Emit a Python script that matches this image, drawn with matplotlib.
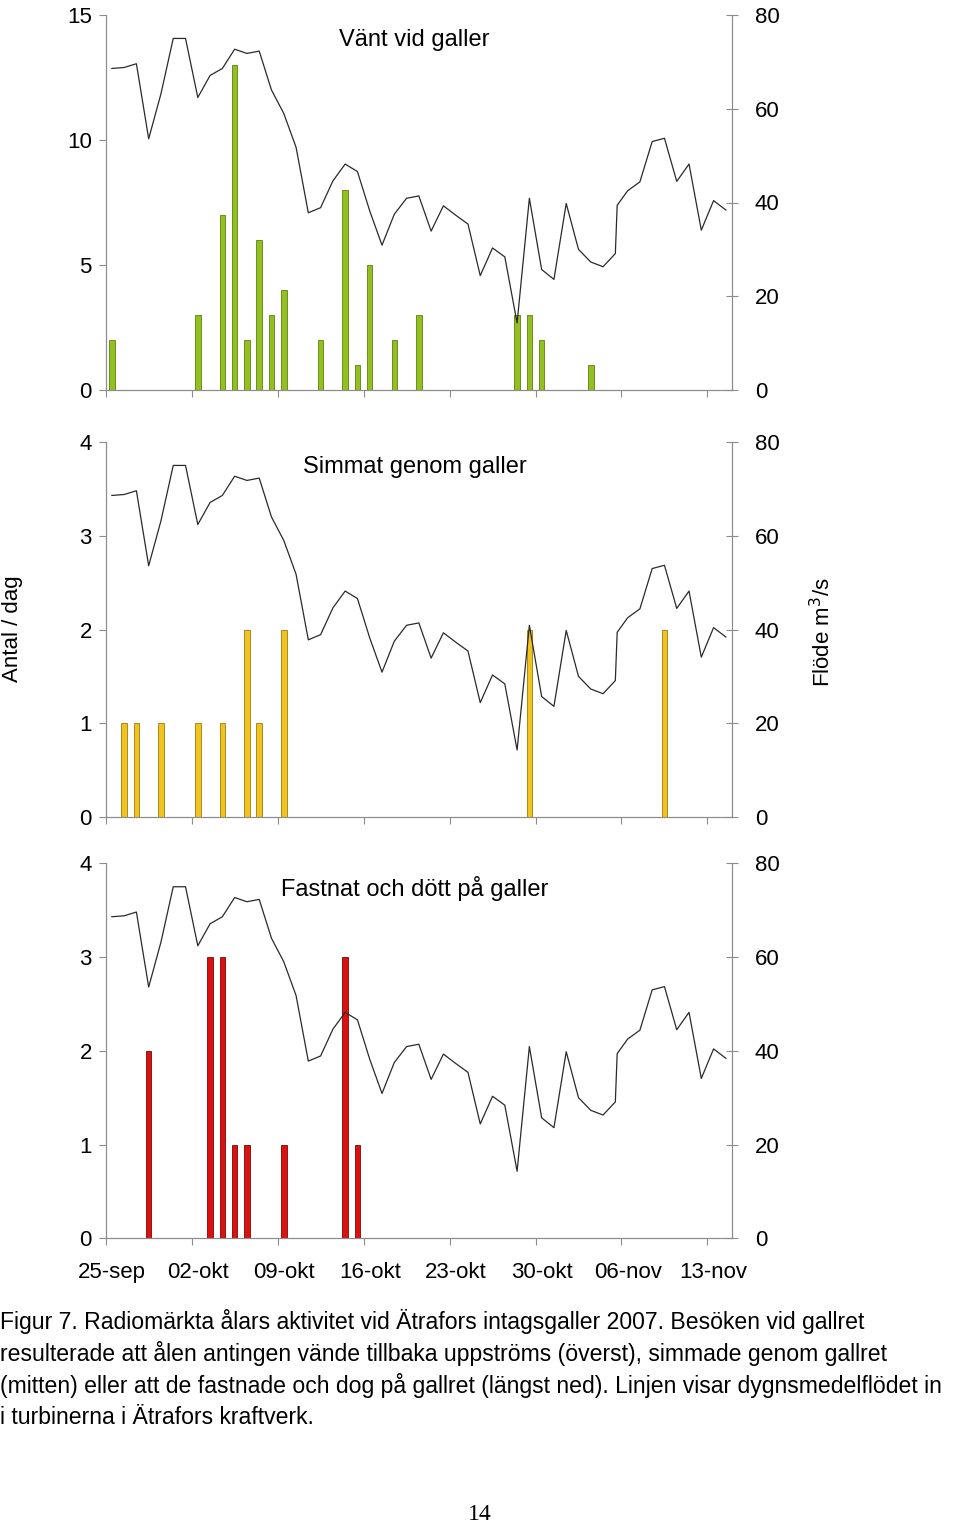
import numpy as np
import matplotlib.pyplot as plt

plt.rcParams['font.family'] = ['Liberation Sans', 'DejaVu Sans']

# ----------------------------------------------------------------------
# DATA (day index 0 = 25-sep 2007)
# ----------------------------------------------------------------------
N_DAYS = 51
tick_labels = ["25-sep", "02-okt", "09-okt", "16-okt", "23-okt", "30-okt", "06-nov", "13-nov"]

# dygnsmedelflöde (m3/s); an extra reading sits just after day 41
flow_days = [0, 1, 2, 3, 4, 5, 6, 7, 8, 9, 10, 11, 12, 13, 14, 15, 16, 17, 18, 19,
             20, 21, 22, 23, 24, 25, 26, 27, 28, 29, 30, 31, 32, 33, 34, 35, 36, 37,
             38, 39, 40, 41, 41.15, 42, 43, 44, 45, 46, 47, 48, 49, 50]
flow = [68.6, 68.8, 69.6, 53.6, 63.2, 75.0, 75.0, 62.4, 67.1, 68.6, 72.7, 71.8, 72.3,
        64.0, 59.0, 51.8, 37.8, 38.9, 44.6, 48.2, 46.6, 38.2, 30.9, 37.5, 40.9, 41.4,
        33.9, 39.3, 37.3, 35.4, 24.4, 30.3, 28.4, 14.3, 40.9, 25.7, 23.6, 39.8, 30.0,
        27.3, 26.3, 29.1, 39.4, 42.5, 44.4, 53.0, 53.7, 44.5, 48.2, 34.1, 40.4, 38.4]

vant_days = [0, 7, 9, 10, 11, 12, 13, 14, 17, 19, 20, 21, 23, 25, 33, 34, 35, 39]
vant_counts = [2, 3, 7, 13, 2, 6, 3, 4, 2, 8, 1, 5, 2, 3, 3, 3, 2, 1]

simmat_days = [1, 2, 4, 7, 9, 11, 12, 14, 34, 45]
simmat_counts = [1, 1, 1, 1, 1, 2, 1, 2, 2, 2]

fastnat_days = [3, 8, 9, 10, 11, 14, 19, 20]
fastnat_counts = [2, 3, 3, 1, 1, 1, 3, 1]

panels = [
    ("Vänt vid galler", vant_days, vant_counts, "#92C020", "#5E7F10", 15, [0, 5, 10, 15]),
    ("Simmat genom galler", simmat_days, simmat_counts, "#F2C21E", "#9A7A10", 4, [0, 1, 2, 3, 4]),
    ("Fastnat och dött på galler", fastnat_days, fastnat_counts, "#DD1010", "#7A0808", 4, [0, 1, 2, 3, 4]),
]

# ----------------------------------------------------------------------
# FIGURE
# ----------------------------------------------------------------------
W, H = 960, 1526
fig = plt.figure(figsize=(W / 100, H / 100), dpi=100)

ax_left = 105.7 / W
ax_width = (732 - 105.7) / W
ax_h = 375 / H
bottoms_px = [390, 817, 1238.3]

spine_col = "#8C8C8C"
major_x = np.arange(-0.5, N_DAYS, 7)
label_x = np.arange(0, N_DAYS, 7)

for i, (title, days, counts, fc, ec, ymax, yticks) in enumerate(panels):
    ax = fig.add_axes([ax_left, 1 - bottoms_px[i] / H, ax_width, ax_h])
    ax.bar(days, counts, width=0.45, color=fc, edgecolor=ec, linewidth=0.6, zorder=2)
    ax.set_xlim(-0.5, N_DAYS - 0.5)
    ax.set_ylim(0, ymax)
    ax.set_yticks(yticks)
    ax.tick_params(axis='y', direction='out', length=5, width=0.8, color=spine_col,
                   labelsize=16, pad=5)
    ax.set_xticks(major_x)
    ax.set_xticklabels([])
    ax.set_xticks(label_x, minor=True)
    if i == 2:
        ax.set_xticklabels(tick_labels, minor=True)
    ax.tick_params(axis='x', which='major', direction='out', length=5, width=0.8, color=spine_col)
    ax.tick_params(axis='x', which='minor', length=0, labelsize=16, pad=17)
    ax.spines['top'].set_visible(False)
    for s in ['left', 'bottom', 'right']:
        ax.spines[s].set_color(spine_col)
        ax.spines[s].set_linewidth(0.8)
    ax.text(0.493, 0.934, title, transform=ax.transAxes, ha='center', va='center', fontsize=17)

    ax2 = ax.twinx()
    ax2.plot(flow_days, flow, color="#2A2A2A", linewidth=0.9, zorder=3)
    ax2.set_ylim(0, 80)
    ax2.set_yticks([0, 20, 40, 60, 80])
    ax2.tick_params(axis='y', direction='inout', length=9, width=0.8, color=spine_col,
                    labelsize=16, pad=12)
    ax2.spines['top'].set_visible(False)
    for s in ['left', 'bottom', 'right']:
        ax2.spines[s].set_color(spine_col)
        ax2.spines[s].set_linewidth(0.8)

# axis titles
fig.text(13 / W, 1 - 629 / H, "Antal / dag", rotation=90, ha='center', va='center', fontsize=16)
fig.text(823 / W, 1 - 632 / H, "Flöde m$^3$/s", rotation=90, ha='center', va='center', fontsize=16)

# caption
caption = [
    "Figur 7. Radiomärkta ålars aktivitet vid Ätrafors intagsgaller 2007. Besöken vid gallret",
    "resulterade att ålen antingen vände tillbaka uppströms (överst), simmade genom gallret",
    "(mitten) eller att de fastnade och dog på gallret (längst ned). Linjen visar dygnsmedelflödet in",
    "i turbinerna i Ätrafors kraftverk.",
]
for k, line in enumerate(caption):
    fig.text(0.0, 1 - (1321 + k * 32.3) / H, line, ha='left', va='center', fontsize=16.55)

fig.text(480 / W, 1 - 1515 / H, "14", ha='center', va='center', fontsize=17,
         family=['Liberation Serif', 'DejaVu Serif'])

plt.savefig("out.png", dpi=100)
plt.close()
